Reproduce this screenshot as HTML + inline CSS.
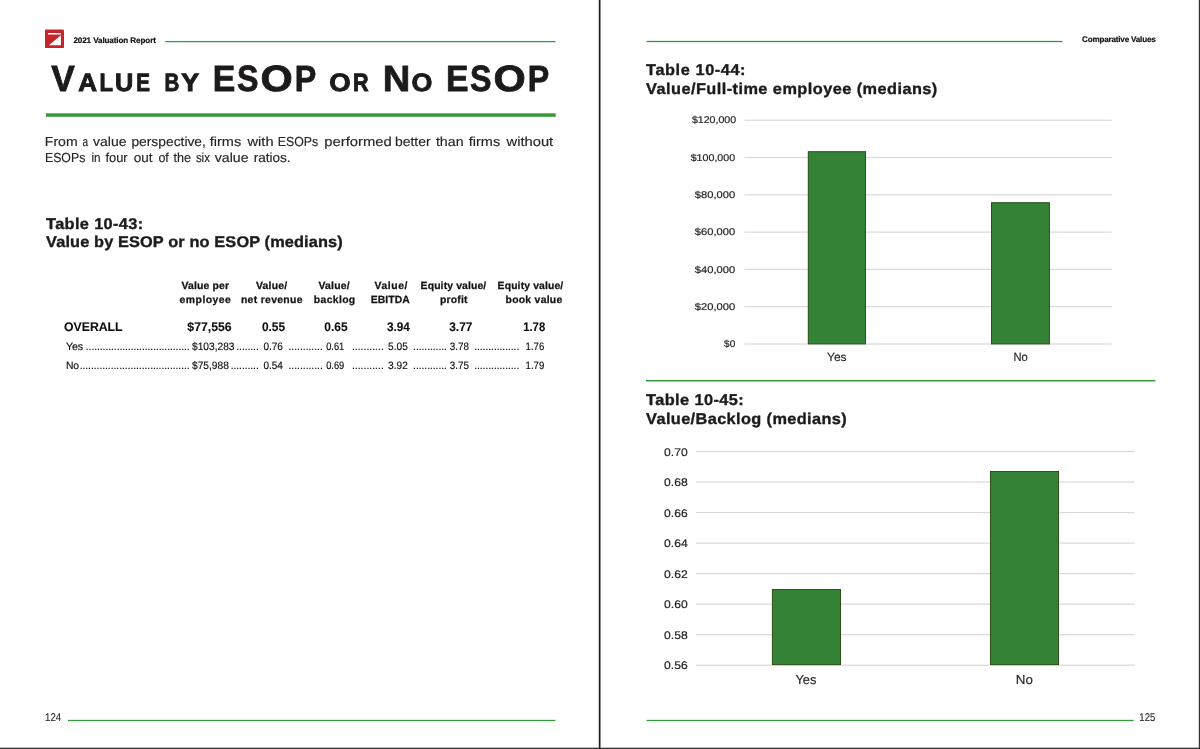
<!DOCTYPE html>
<html lang="en">
<head>
<meta charset="utf-8">
<title>2021 Valuation Report – Value by ESOP or No ESOP</title>
<style>
html,body{margin:0;padding:0;background:#fff;}
body{width:1200px;height:749px;position:relative;overflow:hidden;font-family:"Liberation Sans",Arial,sans-serif;color:#1c1a1a;text-rendering:geometricPrecision;}
#spread{position:absolute;left:0;top:0;width:1200px;height:749px;}
#art{position:absolute;left:0;top:0;width:1200px;height:749px;}
h1,h2,p,div,section,header,footer{margin:0;padding:0;font-weight:normal;font-size:inherit;}
/* every text run: absolutely positioned, the element box sits on the baseline */
.t{position:absolute;display:block;white-space:pre;line-height:0;height:100px;margin:0;padding:0;transform-origin:0 100%;}
.t::before{content:"";display:inline-block;width:0;height:100px;vertical-align:baseline;}
</style>
</head>
<body>
<div id="spread">

<svg id="art" width="1200" height="749" viewBox="0 0 1200 749" aria-hidden="true">
<g id="frame" fill="#1a1a1a">
<rect x="598.8" y="0" width="1.7" height="749"/>
<rect x="0" y="747.7" width="1200" height="1.3" fill="#333"/>
<rect x="1198.8" y="0" width="1.2" height="749" fill="#333"/>
</g>
<g id="logo">
<rect x="45" y="29.4" width="19" height="18.7" rx="1.2" fill="#c8242b"/>
<path d="M48 32.9H61V34.4H48Z M60.9 35.3V45.3H48.9Z" fill="#fff"/>
</g>
<g id="rules" fill="#35993c">
<rect x="165.3" y="40.95" width="390.2" height="1.3"/>
<rect x="45.9" y="113.30" width="509.8" height="3.5"/>
<rect x="68" y="719.85" width="487.5" height="1.3"/>
<rect x="646.5" y="40.85" width="415.9" height="1.3"/>
<rect x="646" y="379.95" width="509.5" height="1.5"/>
<rect x="646.5" y="719.85" width="487.2" height="1.3"/>
</g>
<g id="chart1-art"><g fill="#d9d9d9">
<rect x="744.5" y="119.60" width="367.3" height="1.2"/>
<rect x="744.5" y="156.90" width="367.3" height="1.2"/>
<rect x="744.5" y="194.20" width="367.3" height="1.2"/>
<rect x="744.5" y="231.50" width="367.3" height="1.2"/>
<rect x="744.5" y="268.80" width="367.3" height="1.2"/>
<rect x="744.5" y="306.10" width="367.3" height="1.2"/>
<rect x="744.5" y="343.40" width="367.3" height="1.2"/>
</g>
<rect x="808.30" y="151.70" width="57.20" height="192.20" fill="#338236" stroke="#2b4f14" stroke-width="1"/>
<rect x="991.50" y="202.70" width="57.90" height="141.20" fill="#338236" stroke="#2b4f14" stroke-width="1"/>
</g>
<g id="chart2-art"><g fill="#d9d9d9">
<rect x="695.8" y="450.90" width="438.6" height="1.2"/>
<rect x="695.8" y="481.43" width="438.6" height="1.2"/>
<rect x="695.8" y="511.96" width="438.6" height="1.2"/>
<rect x="695.8" y="542.49" width="438.6" height="1.2"/>
<rect x="695.8" y="573.02" width="438.6" height="1.2"/>
<rect x="695.8" y="603.55" width="438.6" height="1.2"/>
<rect x="695.8" y="634.08" width="438.6" height="1.2"/>
<rect x="695.8" y="664.61" width="438.6" height="1.2"/>
</g>
<rect x="772.40" y="589.50" width="68.10" height="75.10" fill="#338236" stroke="#2b4f14" stroke-width="1"/>
<rect x="990.50" y="471.50" width="68.00" height="193.10" fill="#338236" stroke="#2b4f14" stroke-width="1"/>
</g>
</svg>
<div id="runhead"><span class="t" style="left:73.40px;top:-57px;font-size:8.1px;letter-spacing:-0.103px;font-weight:700;color:#141212;-webkit-text-stroke:0.2px;">2021 Valuation Report </span></div>
<h1 id="title"><span class="t" style="left:51px;top:-9px;font-size:36.5px;font-weight:700;transform:translateX(0.20px) scaleX(0.968);-webkit-text-stroke:0.8px;">V</span><span class="t" style="left:78px;top:-9px;font-size:25.2px;font-weight:700;transform:translateX(0.27px) scaleX(1.0306);-webkit-text-stroke:0.95px;">A</span><span class="t" style="left:99px;top:-9px;font-size:25.2px;font-weight:700;transform:translateX(0.40px) scaleX(0.875);-webkit-text-stroke:0.95px;">L</span><span class="t" style="left:114px;top:-9px;font-size:25.2px;font-weight:700;transform:translateX(0.97px) scaleX(1.0031);-webkit-text-stroke:0.95px;">U</span><span class="t" style="left:136px;top:-9px;font-size:25.2px;font-weight:700;transform:translateX(0.26px) scaleX(0.8167);-webkit-text-stroke:0.95px;">E</span><span class="t" style="left:152.00px;top:-9px;font-size:25.2px;font-weight:700;"> </span><span class="t" style="left:164px;top:-9px;font-size:25.2px;font-weight:700;transform:translateX(0.46px) scaleX(0.8147);-webkit-text-stroke:0.95px;">B</span><span class="t" style="left:181px;top:-9px;font-size:25.2px;font-weight:700;transform:translateX(0.17px) scaleX(1.0618);-webkit-text-stroke:0.95px;">Y</span><span class="t" style="left:203.00px;top:-9px;font-size:25.2px;font-weight:700;"> </span><span class="t" style="left:212px;top:-9px;font-size:36.5px;font-weight:700;transform:translateX(0.80px) scaleX(0.9262);-webkit-text-stroke:0.8px;">E</span><span class="t" style="left:237px;top:-9px;font-size:36.5px;font-weight:700;transform:translateX(0.02px) scaleX(0.8818);-webkit-text-stroke:0.8px;">S</span><span class="t" style="left:260px;top:-9px;font-size:36.5px;font-weight:700;transform:translateX(0.47px) scaleX(1.1346);-webkit-text-stroke:0.8px;">O</span><span class="t" style="left:294px;top:-9px;font-size:36.5px;font-weight:700;transform:translateX(0.63px) scaleX(0.8841);-webkit-text-stroke:0.8px;">P</span><span class="t" style="left:319.00px;top:-9px;font-size:25.2px;font-weight:700;"> </span><span class="t" style="left:329px;top:-9px;font-size:25.2px;font-weight:700;transform:translateX(0.28px) scaleX(1.0917);-webkit-text-stroke:0.95px;">O</span><span class="t" style="left:353px;top:-9px;font-size:25.2px;font-weight:700;transform:translateX(0.02px) scaleX(0.8559);-webkit-text-stroke:0.95px;">R</span><span class="t" style="left:372.00px;top:-9px;font-size:25.2px;font-weight:700;"> </span><span class="t" style="left:382px;top:-9px;font-size:36.5px;font-weight:700;transform:translateX(0.71px) scaleX(1.0455);-webkit-text-stroke:0.8px;">N</span><span class="t" style="left:411px;top:-9px;font-size:25.2px;font-weight:700;transform:translateX(0.61px) scaleX(1.0639);-webkit-text-stroke:0.95px;">O</span><span class="t" style="left:435.00px;top:-9px;font-size:25.2px;font-weight:700;"> </span><span class="t" style="left:445px;top:-9px;font-size:36.5px;font-weight:700;transform:translateX(0.95px) scaleX(0.9238);-webkit-text-stroke:0.8px;">E</span><span class="t" style="left:470px;top:-9px;font-size:36.5px;font-weight:700;transform:translateX(0.12px) scaleX(0.8818);-webkit-text-stroke:0.8px;">S</span><span class="t" style="left:493px;top:-9px;font-size:36.5px;font-weight:700;transform:translateX(0.57px) scaleX(1.1346);-webkit-text-stroke:0.8px;">O</span><span class="t" style="left:527px;top:-9px;font-size:36.5px;font-weight:700;transform:translateX(0.74px) scaleX(0.8818);-webkit-text-stroke:0.8px;">P</span></h1>
<p id="para"><span class="t" style="left:44px;top:46px;font-size:13.1px;color:#262626;transform:translateX(0.80px) scaleX(1.0745);-webkit-text-stroke:0.15px;">From </span><span class="t" style="left:82px;top:46px;font-size:13.1px;color:#262626;transform:translateX(0.58px) scaleX(0.7687);-webkit-text-stroke:0.15px;">a </span><span class="t" style="left:93px;top:46px;font-size:13.1px;color:#262626;transform:translateX(0.08px) scaleX(1.0687);-webkit-text-stroke:0.15px;">value </span><span class="t" style="left:131px;top:46px;font-size:13.1px;color:#262626;transform:translateX(0.38px) scaleX(1.0556);-webkit-text-stroke:0.15px;">perspective, </span><span class="t" style="left:209px;top:46px;font-size:13.1px;color:#262626;transform:translateX(0.77px) scaleX(1.1054);-webkit-text-stroke:0.15px;">firms </span><span class="t" style="left:247px;top:46px;font-size:13.1px;color:#262626;transform:translateX(0.49px) scaleX(1.1186);-webkit-text-stroke:0.15px;">with </span><span class="t" style="left:277px;top:46px;font-size:13.1px;color:#262626;transform:translateX(0.83px) scaleX(0.9402);-webkit-text-stroke:0.15px;">ESOPs </span><span class="t" style="left:324px;top:46px;font-size:13.1px;color:#262626;transform:translateX(0.27px) scaleX(1.1306);-webkit-text-stroke:0.15px;">performed </span><span class="t" style="left:395px;top:46px;font-size:13.1px;color:#262626;transform:translateX(0.07px) scaleX(1.0594);-webkit-text-stroke:0.15px;">better </span><span class="t" style="left:435px;top:46px;font-size:13.1px;color:#262626;transform:translateX(0.88px) scaleX(1.0852);-webkit-text-stroke:0.15px;">than </span><span class="t" style="left:468px;top:46px;font-size:13.1px;color:#262626;transform:translateX(0.77px) scaleX(1.1088);-webkit-text-stroke:0.15px;">firms </span><span class="t" style="left:506px;top:46px;font-size:13.1px;color:#262626;transform:translateX(0.50px) scaleX(1.126);-webkit-text-stroke:0.15px;">without </span><span class="t" style="left:44px;top:62px;font-size:13.1px;color:#262626;transform:translateX(0.93px) scaleX(0.9402);-webkit-text-stroke:0.15px;">ESOPs </span><span class="t" style="left:91px;top:62px;font-size:13.1px;color:#262626;transform:translateX(0.38px) scaleX(0.8931);-webkit-text-stroke:0.15px;">in </span><span class="t" style="left:105px;top:62px;font-size:13.1px;color:#262626;transform:translateX(0.38px) scaleX(0.9848);-webkit-text-stroke:0.15px;">four </span><span class="t" style="left:133px;top:62px;font-size:13.1px;color:#262626;transform:translateX(0.77px) scaleX(1.0316);-webkit-text-stroke:0.15px;">out </span><span class="t" style="left:158px;top:62px;font-size:13.1px;color:#262626;transform:translateX(0.38px) scaleX(0.9528);-webkit-text-stroke:0.15px;">of </span><span class="t" style="left:173px;top:62px;font-size:13.1px;color:#262626;transform:translateX(0.38px) scaleX(0.9682);-webkit-text-stroke:0.15px;">the </span><span class="t" style="left:195px;top:62px;font-size:13.1px;color:#262626;transform:translateX(0.88px) scaleX(0.872);-webkit-text-stroke:0.15px;">six </span><span class="t" style="left:214px;top:62px;font-size:13.1px;color:#262626;transform:translateX(0.77px) scaleX(1.0783);-webkit-text-stroke:0.15px;">value </span><span class="t" style="left:253px;top:62px;font-size:13.1px;color:#262626;transform:translateX(0.77px) scaleX(1.0323);-webkit-text-stroke:0.15px;">ratios. </span></p>
<h2 id="h43"><span class="t" style="left:46px;top:129px;font-size:15.55px;letter-spacing:0.341px;font-weight:700;transform:translateX(0.07px) scaleX(1.05);-webkit-text-stroke:0.35px;">Table 10-43: </span><span class="t" style="left:46px;top:147px;font-size:15.55px;letter-spacing:0.122px;font-weight:700;transform:translateX(0.07px) scaleX(1.05);-webkit-text-stroke:0.35px;">Value by ESOP or no ESOP (medians) </span></h2>
<div id="thead"><span class="t" style="left:181.43px;top:189px;font-size:10.4px;letter-spacing:0.186px;font-weight:700;color:#141212;-webkit-text-stroke:0.25px;">Value per </span><span class="t" style="left:179.62px;top:203px;font-size:10.4px;letter-spacing:0.471px;font-weight:700;color:#141212;-webkit-text-stroke:0.25px;">employee </span><span class="t" style="left:255.93px;top:189px;font-size:10.4px;letter-spacing:0.260px;font-weight:700;color:#141212;-webkit-text-stroke:0.25px;">Value/ </span><span class="t" style="left:240.93px;top:203px;font-size:10.4px;letter-spacing:0.320px;font-weight:700;color:#141212;-webkit-text-stroke:0.25px;">net revenue </span><span class="t" style="left:318.43px;top:189px;font-size:10.4px;letter-spacing:0.260px;font-weight:700;color:#141212;-webkit-text-stroke:0.25px;">Value/ </span><span class="t" style="left:313.82px;top:203px;font-size:10.4px;letter-spacing:0.355px;font-weight:700;color:#141212;-webkit-text-stroke:0.25px;">backlog </span><span class="t" style="left:374.43px;top:189px;font-size:10.4px;letter-spacing:0.600px;font-weight:700;color:#141212;-webkit-text-stroke:0.25px;">Value/ </span><span class="t" style="left:370.73px;top:203px;font-size:10.4px;letter-spacing:0.076px;font-weight:700;color:#141212;-webkit-text-stroke:0.25px;">EBITDA </span><span class="t" style="left:420.62px;top:189px;font-size:10.4px;letter-spacing:0.129px;font-weight:700;color:#141212;-webkit-text-stroke:0.25px;">Equity value/ </span><span class="t" style="left:439.93px;top:203px;font-size:10.4px;letter-spacing:0.213px;font-weight:700;color:#141212;-webkit-text-stroke:0.25px;">profit </span><span class="t" style="left:497.62px;top:189px;font-size:10.4px;letter-spacing:0.129px;font-weight:700;color:#141212;-webkit-text-stroke:0.25px;">Equity value/ </span><span class="t" style="left:505.52px;top:203px;font-size:10.4px;letter-spacing:0.272px;font-weight:700;color:#141212;-webkit-text-stroke:0.25px;">book value </span></div>
<div id="row0"><span class="t" style="left:64px;top:231px;font-size:12.5px;font-weight:700;color:#0d0d0d;transform:translateX(0.05px) scaleX(0.9802);-webkit-text-stroke:0.1px;">OVERALL </span><span class="t" style="left:187px;top:231px;font-size:12.5px;font-weight:700;color:#0d0d0d;transform:translateX(0.35px) scaleX(0.9794);-webkit-text-stroke:0.1px;">$77,556 </span><span class="t" style="left:261px;top:231px;font-size:12.5px;font-weight:700;color:#0d0d0d;transform:translateX(0.95px) scaleX(0.9517);-webkit-text-stroke:0.1px;">0.55 </span><span class="t" style="left:324px;top:231px;font-size:12.5px;font-weight:700;color:#0d0d0d;transform:translateX(0.35px) scaleX(0.9558);-webkit-text-stroke:0.1px;">0.65 </span><span class="t" style="left:386px;top:231px;font-size:12.5px;font-weight:700;color:#0d0d0d;transform:translateX(0.95px) scaleX(0.9435);-webkit-text-stroke:0.1px;">3.94 </span><span class="t" style="left:449px;top:231px;font-size:12.5px;font-weight:700;color:#0d0d0d;transform:translateX(0.25px) scaleX(0.9517);-webkit-text-stroke:0.1px;">3.77 </span><span class="t" style="left:523px;top:231px;font-size:12.5px;font-weight:700;color:#0d0d0d;transform:translateX(0.15px) scaleX(0.9066);-webkit-text-stroke:0.1px;">1.78 </span></div>
<div id="row1"><span class="t" style="left:65px;top:250px;font-size:10.7px;color:#0d0d0d;transform:translateX(0.88px) scaleX(0.9918);-webkit-text-stroke:0.15px;">Yes </span><span class="t" style="left:85.78px;top:250px;font-size:10.3px;letter-spacing:-0.054px;color:#0d0d0d;-webkit-text-stroke:0.15px;">..................................... </span><span class="t" style="left:191px;top:250px;font-size:10.7px;color:#0d0d0d;transform:translateX(0.97px) scaleX(0.9533);-webkit-text-stroke:0.15px;">$103,283 </span><span class="t" style="left:236.32px;top:250px;font-size:10.3px;letter-spacing:-0.061px;color:#0d0d0d;-webkit-text-stroke:0.15px;">........ </span><span class="t" style="left:263px;top:250px;font-size:10.7px;color:#0d0d0d;transform:translateX(0.38px) scaleX(0.9373);-webkit-text-stroke:0.15px;">0.76 </span><span class="t" style="left:288.47px;top:250px;font-size:10.3px;color:#0d0d0d;-webkit-text-stroke:0.15px;">............ </span><span class="t" style="left:326px;top:250px;font-size:10.7px;color:#0d0d0d;transform:translateX(0.18px) scaleX(0.8702);-webkit-text-stroke:0.15px;">0.61 </span><span class="t" style="left:351.88px;top:250px;font-size:10.3px;letter-spacing:0.044px;color:#0d0d0d;-webkit-text-stroke:0.15px;">........... </span><span class="t" style="left:388px;top:250px;font-size:10.7px;color:#0d0d0d;transform:translateX(0.07px) scaleX(0.9469);-webkit-text-stroke:0.15px;">5.05 </span><span class="t" style="left:413.07px;top:250px;font-size:10.3px;letter-spacing:-0.047px;color:#0d0d0d;-webkit-text-stroke:0.15px;">............ </span><span class="t" style="left:449px;top:250px;font-size:10.7px;color:#0d0d0d;transform:translateX(0.68px) scaleX(0.9229);-webkit-text-stroke:0.15px;">3.78 </span><span class="t" style="left:474.18px;top:250px;font-size:10.3px;letter-spacing:-0.044px;color:#0d0d0d;-webkit-text-stroke:0.15px;">................ </span><span class="t" style="left:525px;top:250px;font-size:10.7px;color:#0d0d0d;transform:translateX(0.58px) scaleX(0.899);-webkit-text-stroke:0.15px;">1.76 </span></div>
<div id="row2"><span class="t" style="left:65px;top:269px;font-size:10.7px;color:#0d0d0d;transform:translateX(0.88px) scaleX(0.9659);-webkit-text-stroke:0.15px;">No </span><span class="t" style="left:79.67px;top:269px;font-size:10.3px;letter-spacing:-0.041px;color:#0d0d0d;-webkit-text-stroke:0.15px;">....................................... </span><span class="t" style="left:191px;top:269px;font-size:10.7px;color:#0d0d0d;transform:translateX(0.97px) scaleX(0.9551);-webkit-text-stroke:0.15px;">$75,988 </span><span class="t" style="left:230.67px;top:269px;font-size:10.3px;letter-spacing:-0.055px;color:#0d0d0d;-webkit-text-stroke:0.15px;">.......... </span><span class="t" style="left:263px;top:269px;font-size:10.7px;color:#0d0d0d;transform:translateX(0.38px) scaleX(0.9373);-webkit-text-stroke:0.15px;">0.54 </span><span class="t" style="left:288.47px;top:269px;font-size:10.3px;color:#0d0d0d;-webkit-text-stroke:0.15px;">............ </span><span class="t" style="left:326px;top:269px;font-size:10.7px;color:#0d0d0d;transform:translateX(0.18px) scaleX(0.8702);-webkit-text-stroke:0.15px;">0.69 </span><span class="t" style="left:351.88px;top:269px;font-size:10.3px;letter-spacing:0.044px;color:#0d0d0d;-webkit-text-stroke:0.15px;">........... </span><span class="t" style="left:388px;top:269px;font-size:10.7px;color:#0d0d0d;transform:translateX(0.07px) scaleX(0.9469);-webkit-text-stroke:0.15px;">3.92 </span><span class="t" style="left:413.07px;top:269px;font-size:10.3px;letter-spacing:-0.047px;color:#0d0d0d;-webkit-text-stroke:0.15px;">............ </span><span class="t" style="left:449px;top:269px;font-size:10.7px;color:#0d0d0d;transform:translateX(0.68px) scaleX(0.9229);-webkit-text-stroke:0.15px;">3.75 </span><span class="t" style="left:474.18px;top:269px;font-size:10.3px;letter-spacing:-0.044px;color:#0d0d0d;-webkit-text-stroke:0.15px;">................ </span><span class="t" style="left:525px;top:269px;font-size:10.7px;color:#0d0d0d;transform:translateX(0.58px) scaleX(0.899);-webkit-text-stroke:0.15px;">1.79 </span></div>
<div id="foot-l"><span class="t" style="left:45px;top:621px;font-size:11.3px;color:#262626;transform:translateX(0.05px) scaleX(0.8564);-webkit-text-stroke:0.1px;">124 </span></div>
<div id="runhead-r"><span class="t" style="left:1082.10px;top:-58px;font-size:8.1px;letter-spacing:-0.196px;font-weight:700;color:#141212;-webkit-text-stroke:0.2px;">Comparative Values </span></div>
<h2 id="h44"><span class="t" style="left:646px;top:-25px;font-size:15.55px;letter-spacing:0.549px;font-weight:700;transform:translateX(0.07px) scaleX(1.05);-webkit-text-stroke:0.35px;">Table 10-44: </span><span class="t" style="left:646px;top:-6px;font-size:15.55px;letter-spacing:0.420px;font-weight:700;transform:translateX(0.07px) scaleX(1.05);-webkit-text-stroke:0.35px;">Value/Full-time employee (medians) </span></h2>
<div id="chart1"><span class="t" style="left:691px;top:23px;font-size:9.8px;color:#262626;transform:translateX(0.90px) scaleX(1.0818);-webkit-text-stroke:0.2px;">$120,000 </span><span class="t" style="left:690px;top:61px;font-size:9.8px;color:#262626;transform:translateX(0.70px) scaleX(1.0866);-webkit-text-stroke:0.2px;">$100,000 </span><span class="t" style="left:694px;top:98px;font-size:9.8px;color:#262626;transform:translateX(0.80px) scaleX(1.1372);-webkit-text-stroke:0.2px;">$80,000 </span><span class="t" style="left:694px;top:135px;font-size:9.8px;color:#262626;transform:translateX(0.80px) scaleX(1.1372);-webkit-text-stroke:0.2px;">$60,000 </span><span class="t" style="left:694px;top:173px;font-size:9.8px;color:#262626;transform:translateX(0.80px) scaleX(1.14);-webkit-text-stroke:0.2px;">$40,000 </span><span class="t" style="left:694px;top:210px;font-size:9.8px;color:#262626;transform:translateX(0.80px) scaleX(1.14);-webkit-text-stroke:0.2px;">$20,000 </span><span class="t" style="left:724px;top:247px;font-size:9.8px;color:#262626;transform:translateX(0.10px) scaleX(1.022);-webkit-text-stroke:0.2px;">$0 </span><span class="t" style="left:826px;top:261px;font-size:11.9px;color:#262626;transform:translateX(0.98px) scaleX(1.0102);-webkit-text-stroke:0.15px;">Yes </span><span class="t" style="left:1013px;top:261px;font-size:11.9px;color:#262626;transform:translateX(0.38px) scaleX(0.9463);-webkit-text-stroke:0.15px;">No </span></div>
<h2 id="h45"><span class="t" style="left:646px;top:305px;font-size:15.55px;letter-spacing:0.393px;font-weight:700;transform:translateX(0.07px) scaleX(1.05);-webkit-text-stroke:0.35px;">Table 10-45: </span><span class="t" style="left:646px;top:324px;font-size:15.55px;letter-spacing:0.360px;font-weight:700;transform:translateX(0.07px) scaleX(1.05);-webkit-text-stroke:0.35px;">Value/Backlog (medians) </span></h2>
<div id="chart2"><span class="t" style="left:664px;top:356px;font-size:11.0px;color:#262626;transform:translateX(0.10px) scaleX(1.1037);-webkit-text-stroke:0.2px;">0.70 </span><span class="t" style="left:664px;top:386px;font-size:11.0px;color:#262626;transform:translateX(0.10px) scaleX(1.1037);-webkit-text-stroke:0.2px;">0.68 </span><span class="t" style="left:664px;top:417px;font-size:11.0px;color:#262626;transform:translateX(0.10px) scaleX(1.1037);-webkit-text-stroke:0.2px;">0.66 </span><span class="t" style="left:664px;top:447px;font-size:11.0px;color:#262626;transform:translateX(0.10px) scaleX(1.1037);-webkit-text-stroke:0.2px;">0.64 </span><span class="t" style="left:664px;top:478px;font-size:11.0px;color:#262626;transform:translateX(0.10px) scaleX(1.1037);-webkit-text-stroke:0.2px;">0.62 </span><span class="t" style="left:664px;top:508px;font-size:11.0px;color:#262626;transform:translateX(0.10px) scaleX(1.1037);-webkit-text-stroke:0.2px;">0.60 </span><span class="t" style="left:664px;top:539px;font-size:11.0px;color:#262626;transform:translateX(0.10px) scaleX(1.1037);-webkit-text-stroke:0.2px;">0.58 </span><span class="t" style="left:664px;top:569px;font-size:11.0px;color:#262626;transform:translateX(0.10px) scaleX(1.1037);-webkit-text-stroke:0.2px;">0.56 </span><span class="t" style="left:795px;top:584px;font-size:13.0px;color:#262626;transform:translateX(0.48px) scaleX(0.9881);-webkit-text-stroke:0.15px;">Yes </span><span class="t" style="left:1015px;top:584px;font-size:13.0px;color:#262626;transform:translateX(0.74px) scaleX(1.03);-webkit-text-stroke:0.15px;">No </span></div>
<div id="foot-r"><span class="t" style="left:1139px;top:621px;font-size:11.3px;color:#262626;transform:translateX(0.35px) scaleX(0.8403);-webkit-text-stroke:0.1px;">125 </span></div>
</div>
</body>
</html>
